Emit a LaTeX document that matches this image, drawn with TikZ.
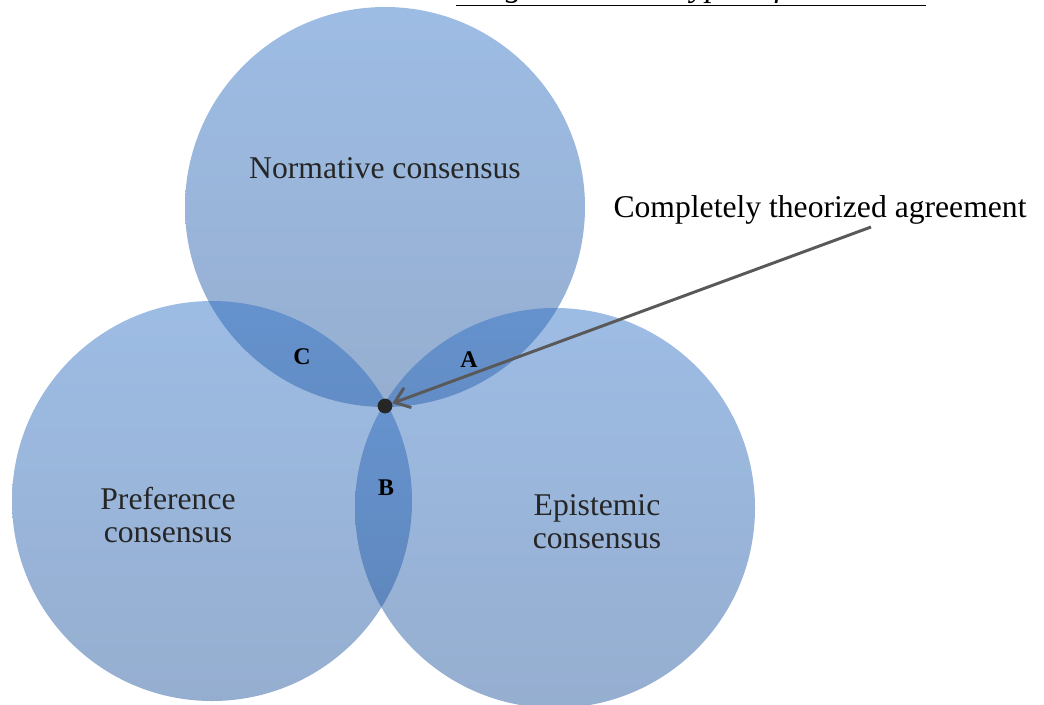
\documentclass[tikz,border=0pt]{standalone}
\usepackage{fontspec}
\setmainfont{Liberation Serif}
\usetikzlibrary{arrows.meta}

\definecolor{vennhi}{RGB}{42,109,196}
\definecolor{vennlo}{RGB}{25,79,153}
\definecolor{labeltext}{RGB}{38,38,38}
\definecolor{pointer}{RGB}{89,89,89}

\tikzset{
  venn/.style={top color=vennhi, bottom color=vennlo, fill opacity=0.46},
  setname/.style={text=labeltext, font=\fontsize{22.5}{23.5}\selectfont, align=center},
  region/.style={text=black, font=\fontsize{17}{18}\selectfont\bfseries},
}

\begin{document}
\begin{tikzpicture}[x=0.025cm,y=-0.025cm]
\useasboundingbox (0,0) rectangle (1044,704);
\clip (0,0) rectangle (1044,704);
% title, cut off by the top edge
\node[anchor=base, font=\fontsize{23.5}{26}\selectfont\itshape] (title) at (691,-4) {\underline{Diagram: Three types of consensus}};
% the three sets
\foreach \cx/\cy in {385/207, 212/501, 555/508}
  \shade[venn] (\cx,\cy) circle (200);
\node[setname] (normative) at (385,168) {Normative consensus};
\node[setname] (preference) at (168,515) {Preference\\consensus};
\node[setname] (epistemic) at (597,522) {Epistemic\\consensus};
% overlaps
\node[region] (regC) at (302,357) {C};
\node[region] (regA) at (469,360) {A};
\node[region] (regB) at (386,488) {B};
% the common point
\node[circle, fill=labeltext, inner sep=0pt, minimum size=0.37cm] (meet) at (385,406) {};
\node[text=black, font=\fontsize{22.5}{26}\selectfont] (complete) at (820,210) {Completely theorized agreement};
\coordinate (tail) at (871,227);
\draw[pointer, line width=2.1pt, -{Straight Barb[length=10pt, width=15pt]}] (tail) -- (meet);
\end{tikzpicture}
\end{document}
